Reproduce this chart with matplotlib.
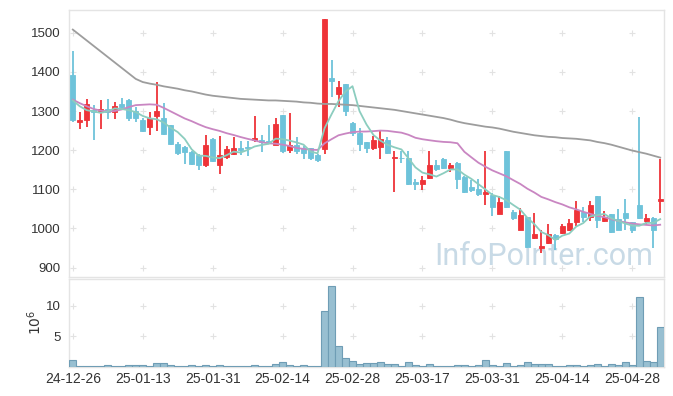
import matplotlib
matplotlib.use("Agg")
import matplotlib.pyplot as plt
import numpy as np

# ---------------- data ----------------
tick_pos = [0, 10, 20, 30, 40, 50, 60, 70, 80]
tick_labels = ['24-12-26', '25-01-13', '25-01-31', '25-02-14', '25-02-28',
               '25-03-17', '25-03-31', '25-04-14', '25-04-28']

opens = [1391, 1271, 1276, 1302, 1299, 1305, 1297, 1317, 1329, 1301,
         1276, 1259, 1288, 1283, 1263, 1216, 1209, 1196, 1188, 1162,
         1229, 1162, 1182, 1190, 1206, 1209, 1225, 1227, 1224, 1213,
         1290, 1201, 1213, 1205, 1205, 1188, 1203, 1384, 1344, 1368,
         1269, 1243, 1220, 1206, 1209, 1227, 1181, 1181, 1180, 1118,
         1113, 1129, 1161, 1178, 1155, 1168, 1131, 1107, 1100, 1088,
         1086, 1037, 1199, 1043, 996, 1029, 975, 950, 962, 984,
         988, 996, 1016, 1042, 1030, 1082, 1018, 1036, 1025, 1039,
         1016, 1059, 1018, 1027, 1070]
highs = [1452, 1298, 1331, 1316, 1327, 1331, 1324, 1334, 1330, 1310,
         1282, 1297, 1374, 1321, 1265, 1220, 1210, 1198, 1190, 1239,
         1231, 1236, 1210, 1233, 1224, 1224, 1288, 1239, 1265, 1282,
         1291, 1294, 1233, 1210, 1206, 1190, 1534, 1431, 1376, 1369,
         1273, 1257, 1221, 1235, 1252, 1233, 1199, 1197, 1197, 1127,
         1135, 1197, 1175, 1179, 1167, 1169, 1133, 1124, 1126, 1197,
         1090, 1084, 1199, 1047, 1052, 1030, 1039, 995, 1012, 985,
         1011, 1024, 1071, 1056, 1071, 1083, 1044, 1037, 1049, 1076,
         1017, 1284, 1037, 1028, 1178]
lows = [1271, 1254, 1259, 1225, 1254, 1280, 1280, 1305, 1275, 1271,
        1246, 1239, 1250, 1239, 1213, 1188, 1165, 1163, 1150, 1156,
        1170, 1139, 1178, 1188, 1188, 1185, 1220, 1195, 1216, 1212,
        1193, 1193, 1190, 1178, 1176, 1169, 1190, 1335, 1310, 1286,
        1236, 1199, 1192, 1201, 1178, 1189, 1093, 1168, 1110, 1097,
        1097, 1127, 1148, 1152, 1144, 1100, 1090, 1094, 1084, 1059,
        1033, 1036, 1053, 1022, 995, 950, 973, 937, 960, 944,
        986, 994, 1007, 1016, 1020, 1001, 1016, 988, 995, 996,
        988, 1024, 1008, 950, 1039]
closes = [1276, 1278, 1318, 1298, 1306, 1297, 1314, 1311, 1282, 1282,
          1248, 1283, 1299, 1241, 1215, 1193, 1196, 1165, 1161, 1212,
          1172, 1188, 1203, 1206, 1201, 1205, 1232, 1222, 1221, 1267,
          1199, 1213, 1199, 1192, 1179, 1176, 1534, 1377, 1361, 1301,
          1244, 1216, 1206, 1226, 1229, 1192, 1183, 1179, 1113, 1113,
          1125, 1161, 1151, 1155, 1161, 1127, 1093, 1097, 1088, 1094,
          1056, 1067, 1056, 1026, 1035, 952, 986, 956, 986, 973,
          1007, 1013, 1046, 1030, 1059, 1022, 1029, 990, 996, 1026,
          996, 1026, 1027, 996, 1074]

ma5 = [1327, 1312, 1302, 1299, 1295.2, 1299.4, 1306.6, 1305.2, 1302, 1297.2,
       1287.4, 1281.2, 1278.8, 1270.6, 1257.2, 1246.2, 1228.8, 1202, 1186, 1185.4,
       1181.2, 1179.6, 1187.2, 1196.2, 1194, 1200.6, 1209.4, 1213.2, 1216.2, 1229.4,
       1228.2, 1224.4, 1219.8, 1214, 1196.4, 1191.8, 1256, 1291.6, 1325.4, 1349.8,
       1363.4, 1299.8, 1265.6, 1238.6, 1224.2, 1213.8, 1207.2, 1201.8, 1179.2, 1156,
       1142.6, 1138.2, 1132.6, 1141, 1150.6, 1151, 1137.4, 1126.6, 1113.2, 1099.8,
       1085.6, 1080.4, 1072.2, 1059.8, 1048, 1027.2, 1011, 991, 983, 970.6,
       981.6, 987, 1005, 1013.8, 1031, 1034, 1037.2, 1026, 1019.2, 1012.6,
       1007.4, 1006.8, 1014.2, 1014.2, 1023.8]
ma20 = [1329, 1320, 1312, 1305, 1301, 1299, 1300, 1304, 1310, 1315,
        1316, 1317, 1316, 1308, 1299, 1290, 1281, 1274, 1266, 1258.8,
        1253.6, 1249.1, 1243.3, 1238.7, 1233.5, 1228.9, 1224.8, 1220.3, 1217.3, 1216.5,
        1214.1, 1210.6, 1205.6, 1203.1, 1201.3, 1200.5, 1217.4, 1228, 1238, 1242.4,
        1246, 1247.4, 1247.6, 1248.6, 1250, 1249.3, 1246.9, 1244.7, 1239.3, 1231.6,
        1227.9, 1225.3, 1222.9, 1221.1, 1220.2, 1217.7, 1195.7, 1181.7, 1168, 1157.7,
        1148.3, 1140.8, 1133.3, 1123.3, 1113.6, 1101.6, 1091.8, 1080.6, 1074.3, 1067.3,
        1061.4, 1054, 1048.7, 1042.5, 1037.4, 1032.1, 1028.9, 1023.6, 1019, 1015.6,
        1012.6, 1010.5, 1009.1, 1007.6, 1009.5]
ma60 = [1508, 1494, 1480, 1466, 1452, 1438, 1424, 1410, 1396, 1382,
        1374, 1370, 1367, 1363, 1360, 1357, 1353, 1350, 1346, 1342,
        1339, 1337, 1335, 1333, 1331, 1330, 1329, 1328, 1327, 1327,
        1326, 1325, 1324, 1322, 1321, 1319, 1318, 1318, 1317, 1316,
        1315, 1313, 1311, 1309, 1307, 1305, 1303, 1300, 1297, 1294,
        1291, 1288, 1285, 1282, 1278, 1273, 1269, 1266, 1263, 1260,
        1258, 1255, 1251, 1247, 1244, 1241, 1238, 1236, 1234, 1233,
        1231, 1230, 1229, 1227, 1225, 1221, 1218, 1214, 1209, 1204,
        1199, 1195, 1191, 1186, 1181]
volume_m = [1.04, 0.15, 0.15, 0.15, 0.15, 0.27, 0.15, 0.15, 0.27, 0.27,
            0.27, 0.1, 0.55, 0.55, 0.27, 0.1, 0.1, 0.27, 0.1, 0.27,
            0.1, 0.27, 0.1, 0.1, 0.1, 0.1, 0.27, 0.1, 0.1, 0.38,
            0.7, 0.27, 0.1, 0.27, 0.1, 0.1, 9.1, 13.2, 3.4, 1.37,
            0.93, 0.44, 0.55, 0.55, 0.71, 0.38, 0.38, 0.1, 0.71, 0.27,
            0.1, 0.38, 0.1, 0.1, 0.1, 0.27, 0.27, 0.1, 0.27, 1.04,
            0.27, 0.1, 0.55, 0.1, 0.27, 0.71, 0.38, 0.38, 0.38, 0.1,
            0.1, 0.27, 0.27, 0.1, 0.27, 0.38, 0.1, 0.38, 0.27, 0.71,
            0.27, 11.4, 0.87, 0.71, 6.6]
price_ticks = [900, 1000, 1100, 1200, 1300, 1400, 1500]
vol_ticks = [5, 10]

# ---------------- style ----------------
UP = '#ee3338'
DOWN = '#6ec3da'
SPINE = '#e4e4e4'
TXT = '#333333'
plt.rcParams['font.family'] = ['Liberation Sans', 'DejaVu Sans']

W, H = 673, 396
fig = plt.figure(figsize=(W / 100, H / 100), dpi=100)
L, R = 69.3 / W, 663.7 / W
ax = fig.add_axes([L, 1 - 277 / H, R - L, (277 - 10) / H])
axv = fig.add_axes([L, 1 - 366.7 / H, R - L, (366.7 - 278.5) / H], sharex=ax)

x = np.arange(len(closes))
o = np.array(opens, float)
c = np.array(closes, float)
hi = np.array(highs, float)
lo = np.array(lows, float)
colors = [UP if cc >= oo else DOWN for oo, cc in zip(o, c)]

ax.vlines(x, lo, hi, colors=colors, linewidth=1.3, zorder=3)
ax.bar(x, c - o, bottom=o, width=0.72, color=colors, edgecolor=colors,
       linewidth=0.6, zorder=4)

ax.plot(x, ma60, color='#9d9d9d', lw=1.3, zorder=5)
ax.plot(x, ma20, color='#c986c2', lw=1.3, zorder=5)
ax.plot(x, ma5, color='#8ccdbf', lw=1.3, zorder=5)

ax.set_xlim(-0.5, len(closes) - 0.5)
ax.set_ylim(876, 1558)

axv.bar(x, volume_m, width=1.0, color='#98bfd1', edgecolor='#6f9db5',
        linewidth=0.8, zorder=3)
axv.set_ylim(0, 14.5)

# grid as '+' marks at tick intersections
for a, yt in ((ax, price_ticks), (axv, vol_ticks)):
    gx, gy = np.meshgrid(tick_pos, yt)
    a.plot(gx.ravel(), gy.ravel(), linestyle='none', marker='+', ms=4.5,
           mew=0.8, color='#e2e2e2', zorder=1)
    for s in a.spines.values():
        s.set_color(SPINE)
        s.set_linewidth(1.0)
    a.tick_params(length=0, colors=TXT, labelsize=9.5)

ax.set_yticks(price_ticks)
ax.set_yticklabels([str(v) for v in price_ticks])
ax.tick_params(axis='x', labelbottom=False)
ax.tick_params(axis='y', pad=6)

axv.set_yticks(vol_ticks)
axv.set_yticklabels([str(v) for v in vol_ticks])
axv.set_xticks(tick_pos)
axv.set_xticklabels(tick_labels)
axv.tick_params(axis='x', pad=4, labelsize=10)
axv.tick_params(axis='y', pad=6)

fig.text(35 / W, 1 - 322 / H, r'$10^6$', rotation=90, ha='center',
         va='center', color=TXT, fontsize=10)

ax.text(0.982, 0.045, 'InfoPointer.com', transform=ax.transAxes,
        ha='right', va='baseline', fontsize=22, color='#c8dae6',
        family='Roboto', weight='normal', zorder=0)

fig.savefig('out.png', dpi=100)
